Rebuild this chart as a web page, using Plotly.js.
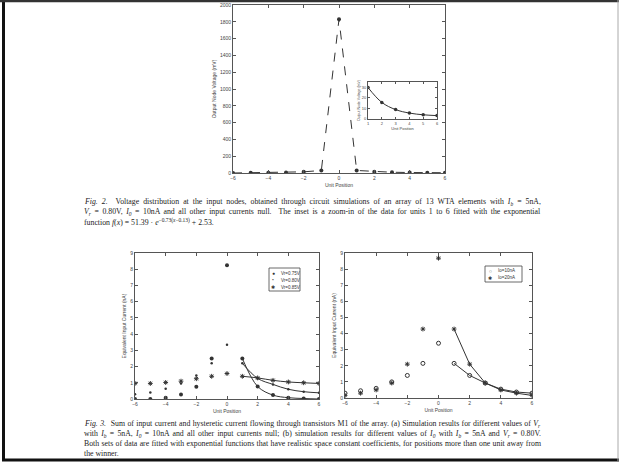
<!DOCTYPE html>
<html><head><meta charset="utf-8">
<script src="https://cdn.plot.ly/plotly-3.0.1.min.js"></script>
<style>body{margin:0;background:#fff}#c{width:619px;height:465px}</style>
</head><body><div id="c"></div>
<script>
// ---- data ----
const unitPos = [-6,-5,-4,-3,-2,-1,0,1,2,3,4,5,6];
const fig2Voltage = [0,2,3,5,14,30,1830,30,16,9,5.6,4,3.2];
const insetPos = [1,2,3,4,5,6];
const insetVoltage = [29.8,15.7,8.9,5.6,4.0,3.2];

const vrLabels = ['Vr=0.75V','Vr=0.80V','Vr=0.85V'];
const vr075 = [0,0,0.08,0.28,0.75,2.5,8.25,2.5,0.77,0.24,0.08,0.03,0.0];
const vr080 = [0.3,0.4,0.63,0.96,1.45,2.2,3.35,2.2,1.27,0.9,0.6,0.45,0.38];
const vr085 = [0.96,0.96,1.02,1.1,1.25,1.4,1.57,1.4,1.3,1.15,1.05,1.0,0.96];

const ioLabels = ['Io=10nA','Io=20nA'];
const io10 = [0.3,0.45,0.6,1.0,1.4,2.15,3.4,2.15,1.4,0.93,0.55,0.37,0.3];
const io20 = [0.16,0.3,0.5,0.93,2.1,4.28,8.68,4.28,2.1,0.93,0.5,0.3,0.16];

const xTicks = [-6,-4,-2,0,2,4,6];

// ---- layout helpers ----
const W=619,H=465;
const fx = p => p/W, fy = p => 1-p/H;
const ink = '#333';
const tickFont = {family:'Liberation Sans, Arial', size:5, color:'#444'};
function ax(dom, extra){
  return Object.assign({domain:dom, showline:true, linecolor:'#555', linewidth:1, mirror:'ticks',
    ticks:'inside', ticklen:3, tickcolor:'#555', tickfont:tickFont, showgrid:false, zeroline:false,
    fixedrange:true}, extra);
}
const fitIdx = unitPos.map((u,i)=>u>=1?i:-1).filter(i=>i>=0);
const sl = arr => fitIdx.map(i=>arr[i]);

const traces = [
  {x:unitPos, y:fig2Voltage, xaxis:'x', yaxis:'y', mode:'lines+markers',
   line:{color:ink, width:1, dash:'dash'}, marker:{color:ink, size:4, symbol:'circle'}, showlegend:false},
  {x:insetPos, y:insetVoltage, xaxis:'x2', yaxis:'y2', mode:'lines+markers',
   line:{color:ink, width:1, shape:'spline'}, marker:{color:ink, size:3.5}, showlegend:false},
  // fig 3a
  {x:unitPos, y:vr075, xaxis:'x3', yaxis:'y3', mode:'markers', marker:{color:ink,size:4,symbol:'circle'}, showlegend:false},
  {x:unitPos, y:vr080, xaxis:'x3', yaxis:'y3', mode:'markers', marker:{color:ink,size:2.5,symbol:'circle'}, showlegend:false},
  {x:unitPos, y:vr085, xaxis:'x3', yaxis:'y3', mode:'markers', marker:{color:ink,size:4,symbol:'asterisk-open',line:{color:ink,width:1}}, showlegend:false},
  {x:sl(unitPos), y:sl(vr075), xaxis:'x3', yaxis:'y3', mode:'lines', line:{color:ink,width:1,shape:'spline'}, showlegend:false},
  {x:sl(unitPos), y:sl(vr080), xaxis:'x3', yaxis:'y3', mode:'lines', line:{color:ink,width:1,shape:'spline'}, showlegend:false},
  {x:sl(unitPos), y:sl(vr085), xaxis:'x3', yaxis:'y3', mode:'lines', line:{color:ink,width:1,shape:'spline'}, showlegend:false},
  // fig 3b
  {x:unitPos, y:io10, xaxis:'x4', yaxis:'y4', mode:'markers', marker:{color:ink,size:4,symbol:'circle-open',line:{color:ink,width:1}}, showlegend:false},
  {x:unitPos, y:io20, xaxis:'x4', yaxis:'y4', mode:'markers', marker:{color:ink,size:4,symbol:'asterisk-open',line:{color:ink,width:1}}, showlegend:false},
  {x:sl(unitPos), y:sl(io10), xaxis:'x4', yaxis:'y4', mode:'lines', line:{color:ink,width:1}, showlegend:false},
  {x:sl(unitPos), y:sl(io20), xaxis:'x4', yaxis:'y4', mode:'lines', line:{color:ink,width:1}, showlegend:false}
];

const tfont = {family:'Liberation Sans, Arial', size:5, color:'#444'};
const layout = {
  width:W, height:H, margin:{l:0,r:0,t:0,b:0}, paper_bgcolor:'#fff', plot_bgcolor:'rgba(0,0,0,0)',
  showlegend:false,
  xaxis: ax([fx(233),fx(445)], {range:[-6,6], tickvals:xTicks, anchor:'y', title:{text:'Unit Position', font:tfont, standoff:3}}),
  yaxis: ax([fy(173),fy(5)], {range:[0,2000], dtick:200, anchor:'x', title:{text:'Output Node Voltage (mV)', font:tfont, standoff:3}}),
  xaxis2: ax([fx(368),fx(437)], {range:[1,6], dtick:1, anchor:'y2', ticklen:2, tickfont:{family:'Liberation Sans, Arial',size:4,color:'#444'}, title:{text:'Unit Position', font:{family:'Liberation Sans, Arial',size:4,color:'#444'}, standoff:1}}),
  yaxis2: ax([fy(119),fy(82)], {range:[0,35], tickvals:[0,10,20,30], anchor:'x2', ticklen:2, tickfont:{family:'Liberation Sans, Arial',size:4,color:'#444'}, title:{text:'Output Node Voltage (mV)', font:{family:'Liberation Sans, Arial',size:3.5,color:'#444'}, standoff:1}}),
  xaxis3: ax([fx(135),fx(319)], {range:[-6,6], tickvals:xTicks, anchor:'y3', title:{text:'Unit Position', font:tfont, standoff:3}}),
  yaxis3: ax([fy(399),fy(253)], {range:[0,9], dtick:1, anchor:'x3', title:{text:'Equivalent Input Current (nA)', font:tfont, standoff:3}}),
  xaxis4: ax([fx(345),fx(532)], {range:[-6,6], tickvals:xTicks, anchor:'y4', title:{text:'Unit Position', font:tfont, standoff:3}}),
  yaxis4: ax([fy(398),fy(253)], {range:[0,9], dtick:1, anchor:'x4', title:{text:'Equivalent Input Current (nA)', font:tfont, standoff:3}}),
  shapes: [
    {type:'line', xref:'paper', yref:'paper', x0:fx(3.5), x1:fx(3.5), y0:fy(0), y1:fy(461), line:{color:'#111', width:3}},
    {type:'line', xref:'paper', yref:'paper', x0:fx(0), x1:fx(619), y0:fy(1), y1:fy(1), line:{color:'#333', width:2.5}},
    {type:'line', xref:'paper', yref:'paper', x0:fx(2), x1:fx(619), y0:fy(460), y1:fy(460), line:{color:'#111', width:3}},
    {type:'line', xref:'paper', yref:'paper', x0:fx(618), x1:fx(618), y0:fy(0), y1:fy(461), line:{color:'#aaa', width:1}},
    // legends
    {type:'rect', xref:'paper', yref:'paper', x0:fx(269), x1:fx(300), y0:fy(291), y1:fy(268), line:{color:'#444', width:0.8}, fillcolor:'#fff'},
    {type:'rect', xref:'paper', yref:'paper', x0:fx(485), x1:fx(522), y0:fy(282), y1:fy(266), line:{color:'#444', width:0.8}, fillcolor:'#fff'}
  ],
  annotations: []
};

// legend text + symbols
const lf = {family:'Liberation Sans, Arial', size:4.5, color:'#333'};
const vrSyms = ['●','•','✱'];
vrLabels.forEach((t,i)=>{
  layout.annotations.push({xref:'paper',yref:'paper',x:fx(273),y:fy(273+i*7),text:vrSyms[i],showarrow:false,font:{size:5,color:ink},xanchor:'center',yanchor:'middle'});
  layout.annotations.push({xref:'paper',yref:'paper',x:fx(279),y:fy(273+i*7),text:t,showarrow:false,font:lf,xanchor:'left',yanchor:'middle'});
});
const ioSyms = ['○','✱'];
ioLabels.forEach((t,i)=>{
  layout.annotations.push({xref:'paper',yref:'paper',x:fx(490),y:fy(270.5+i*7),text:ioSyms[i],showarrow:false,font:{size:5,color:ink},xanchor:'center',yanchor:'middle'});
  layout.annotations.push({xref:'paper',yref:'paper',x:fx(496),y:fy(270.5+i*7),text:t,showarrow:false,font:lf,xanchor:'left',yanchor:'middle'});
});

// captions
const cf = {family:'Liberation Serif, Times New Roman, serif', size:7.8, color:'#222'};
const justify = [];
const cap2 = [
  '<i>Fig. 2.</i>  Voltage distribution at the input nodes, obtained through circuit simulations of an array of 13 WTA elements with <i>I<sub>b</sub></i> = 5nA,',
  '<i>V<sub>r</sub></i> = 0.80V, <i>I<sub>0</sub></i> = 10nA and all other input currents null.  The inset is a zoom-in of the data for units 1 to 6 fitted with the exponential',
  'function <i>f</i>(<i>x</i>) = 51.39 · <i>e</i><sup>−0.73(<i>x</i>−0.13)</sup> + 2.53.'
];
cap2.forEach((t,i)=>{ if(i<2) justify.push(layout.annotations.length);
  layout.annotations.push({xref:'paper',yref:'paper',x:fx(82),y:fy(202+i*10),text:t,showarrow:false,font:cf,xanchor:'left',yanchor:'middle'}); });
const cap3 = [
  '<i>Fig. 3.</i>  Sum of input current and hysteretic current flowing through transistors M1 of the array. (a) Simulation results for different values of <i>V<sub>r</sub></i>',
  'with <i>I<sub>b</sub></i> = 5nA, <i>I<sub>0</sub></i> = 10nA and all other input currents null; (b) simulation results for different values of <i>I<sub>0</sub></i> with <i>I<sub>b</sub></i> = 5nA and <i>V<sub>r</sub></i> = 0.80V.',
  'Both sets of data are fitted with exponential functions that have realistic space constant coefficients, for positions more than one unit away from',
  'the winner.'
];
cap3.forEach((t,i)=>{ if(i<3) justify.push(layout.annotations.length);
  layout.annotations.push({xref:'paper',yref:'paper',x:fx(82),y:fy(424+i*9.7),text:t,showarrow:false,font:cf,xanchor:'left',yanchor:'middle'}); });

Plotly.newPlot('c', traces, layout, {staticPlot:true, displayModeBar:false}).then(gd=>{
  const rightEdge = 541;
  const host = gd.getBoundingClientRect();
  gd.querySelectorAll('.annotation').forEach(a=>{
    const idx = +a.getAttribute('data-index');
    if(justify.indexOf(idx)<0) return;
    const t = a.querySelector('.annotation-text');
    if(!t) return;
    const n = (t.textContent.match(/ /g)||[]).length;
    const r0 = t.getBoundingClientRect();
    const left0 = r0.left - host.left;
    const extra = rightEdge - (r0.right - host.left);
    if(n>0 && extra>0){
      t.style.wordSpacing = (extra/n).toFixed(3)+'px';
      const r1 = t.getBoundingClientRect();
      const dx = left0 - (r1.left - host.left);
      const tr = t.getAttribute('transform') || '';
      t.setAttribute('transform', tr + ' translate(' + dx.toFixed(2) + ',0)');
    }
  });
});
</script></body></html>
